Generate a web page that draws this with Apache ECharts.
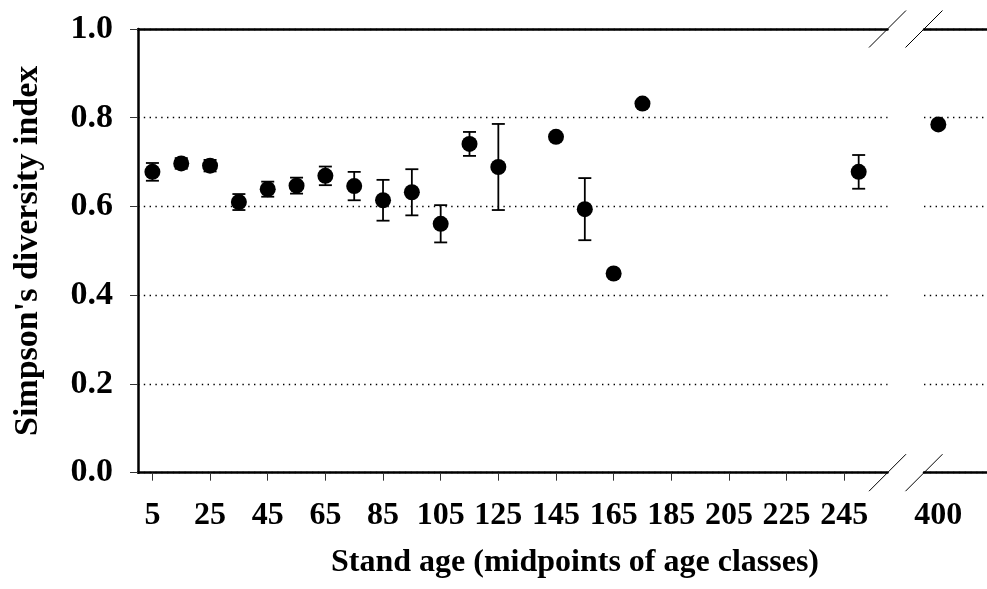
<!DOCTYPE html>
<html>
<head>
<meta charset="utf-8">
<script src="https://cdn.jsdelivr.net/npm/echarts@6/dist/echarts.min.js"></script>
<style>
html,body{margin:0;padding:0;background:#fff;}
#chart{width:987px;height:589px;}
</style>
</head>
<body>
<div id="chart"></div>
<script>
// ---- data ----
var ages  = [5, 15, 25, 35, 45, 55, 65, 75, 85, 95, 105, 115, 125, 145, 155, 165, 175, 250, 400];
var means = [0.678, 0.697, 0.692, 0.610, 0.639, 0.647, 0.669, 0.646, 0.614, 0.632, 0.561, 0.741, 0.689, 0.757, 0.594, 0.449, 0.832, 0.678, 0.785];
var errs  = [0.020, 0.012, 0.013, 0.018, 0.017, 0.018, 0.021, 0.032, 0.046, 0.052, 0.042, 0.027, 0.097, 0, 0.070, 0, 0, 0.038, 0];
var xTicks = [5, 25, 45, 65, 85, 105, 125, 145, 165, 185, 205, 225, 245];
var xTicksAfterBreak = [400];
var yTicks = [0, 0.2, 0.4, 0.6, 0.8, 1.0];
var breakStart = 260, breakEnd = 395, xMaxAfter = 417;
var yTitle = "Simpson's diversity index";
var xTitle = "Stand age (midpoints of age classes)";

// ---- layout ----
var W = 987, H = 589;
var gridTop = 29, gridBottom = 116.3;
var g1Left = 138, g1RightEdge = 887.5, g2Left = 924;
var font = "'Liberation Serif', 'Times New Roman', serif";

var before = [], after = [], bars = [];
for (var i = 0; i < ages.length; i++) {
  if (ages[i] <= breakStart) {
    before.push([ages[i], means[i]]);
    if (errs[i] > 0) bars.push([ages[i], means[i] - errs[i], means[i] + errs[i]]);
  } else {
    after.push([ages[i], means[i]]);
  }
}

var axisLineStyle = {color: '#000', width: 2.5};
var dotted = {show: true, lineStyle: {color: '#000', width: 1.4, type: [1.4, 4.4]}};
var labelStyle = {color: '#000', fontFamily: font, fontWeight: 'bold', fontSize: 32};
var yLabelStyle = {color: '#000', fontFamily: font, fontWeight: 'bold', fontSize: 34};

function slash(cx, cy) {
  return {type: 'line', silent: true,
    shape: {x1: cx - 18.5, y1: cy + 18.5, x2: cx + 18.5, y2: cy - 18.5},
    style: {stroke: '#000', lineWidth: 1}};
}
var axisBottomY = H - gridBottom;

var chart = echarts.init(document.getElementById('chart'), null, {renderer: 'canvas'});
chart.setOption({
  animation: false,
  backgroundColor: '#fff',
  grid: [
    {left: g1Left, right: W - g1RightEdge, top: gridTop, bottom: gridBottom},
    {left: g2Left, right: 0, top: gridTop, bottom: gridBottom}
  ],
  xAxis: [
    {gridIndex: 0, type: 'value', min: 0, max: breakStart, position: 'bottom',
      axisLine: {lineStyle: axisLineStyle},
      axisTick: {customValues: xTicks, length: 8, lineStyle: {color: '#333', width: 1}},
      axisLabel: Object.assign({customValues: xTicks, margin: 27}, labelStyle),
      splitLine: {show: false}},
    {gridIndex: 0, type: 'value', min: 0, max: breakStart, position: 'top',
      axisLine: {lineStyle: axisLineStyle}, axisTick: {show: false}, axisLabel: {show: false}, splitLine: {show: false}},
    {gridIndex: 1, type: 'value', min: breakEnd, max: xMaxAfter, position: 'bottom',
      axisLine: {lineStyle: axisLineStyle},
      axisTick: {show: false},
      axisLabel: Object.assign({customValues: xTicksAfterBreak, margin: 27}, labelStyle),
      splitLine: {show: false}},
    {gridIndex: 1, type: 'value', min: breakEnd, max: xMaxAfter, position: 'top',
      axisLine: {lineStyle: axisLineStyle}, axisTick: {show: false}, axisLabel: {show: false}, splitLine: {show: false}}
  ],
  yAxis: [
    {gridIndex: 0, type: 'value', min: yTicks[0], max: yTicks[yTicks.length - 1], interval: 0.2,
      axisLine: {show: true, lineStyle: axisLineStyle},
      axisTick: {show: true, length: 8, lineStyle: {color: '#333', width: 1}},
      axisLabel: Object.assign({margin: 25, formatter: function (v) { return v.toFixed(1); }}, yLabelStyle),
      splitLine: dotted,
      name: yTitle, nameLocation: 'middle', nameGap: 93,
      nameTextStyle: {color: '#000', fontFamily: font, fontWeight: 'bold', fontSize: 34}},
    {gridIndex: 1, type: 'value', min: yTicks[0], max: yTicks[yTicks.length - 1], interval: 0.2,
      axisLine: {show: false}, axisTick: {show: false}, axisLabel: {show: false},
      splitLine: dotted}
  ],
  series: [
    {type: 'custom', xAxisIndex: 0, yAxisIndex: 0, z: 2, data: bars,
      encode: {x: 0, y: [1, 2]},
      renderItem: function (params, api) {
        var x = api.value(0), lo = api.value(1), hi = api.value(2);
        var pHi = api.coord([x, hi]), pLo = api.coord([x, lo]);
        var hw = 6.5, st = {stroke: '#000', lineWidth: 1.8};
        return {type: 'group', children: [
          {type: 'line', shape: {x1: pHi[0], y1: pHi[1], x2: pLo[0], y2: pLo[1]}, style: st},
          {type: 'line', shape: {x1: pHi[0] - hw, y1: pHi[1], x2: pHi[0] + hw, y2: pHi[1]}, style: st},
          {type: 'line', shape: {x1: pLo[0] - hw, y1: pLo[1], x2: pLo[0] + hw, y2: pLo[1]}, style: st}
        ]};
      }},
    {type: 'scatter', xAxisIndex: 0, yAxisIndex: 0, z: 3, data: before, symbol: 'circle', symbolSize: 16,
      itemStyle: {color: '#000', opacity: 1}},
    {type: 'scatter', xAxisIndex: 2, yAxisIndex: 1, z: 3, data: after, symbol: 'circle', symbolSize: 16,
      itemStyle: {color: '#000', opacity: 1}}
  ],
  graphic: [
    slash(g1RightEdge, gridTop), slash(g2Left, gridTop),
    slash(g1RightEdge, axisBottomY), slash(g2Left, axisBottomY),
    {type: 'text', x: 575, y: 563, silent: true,
      style: {text: xTitle, fill: '#000', font: 'bold 32px ' + font, textAlign: 'center', textVerticalAlign: 'middle'}}
  ]
});
</script>
</body>
</html>
